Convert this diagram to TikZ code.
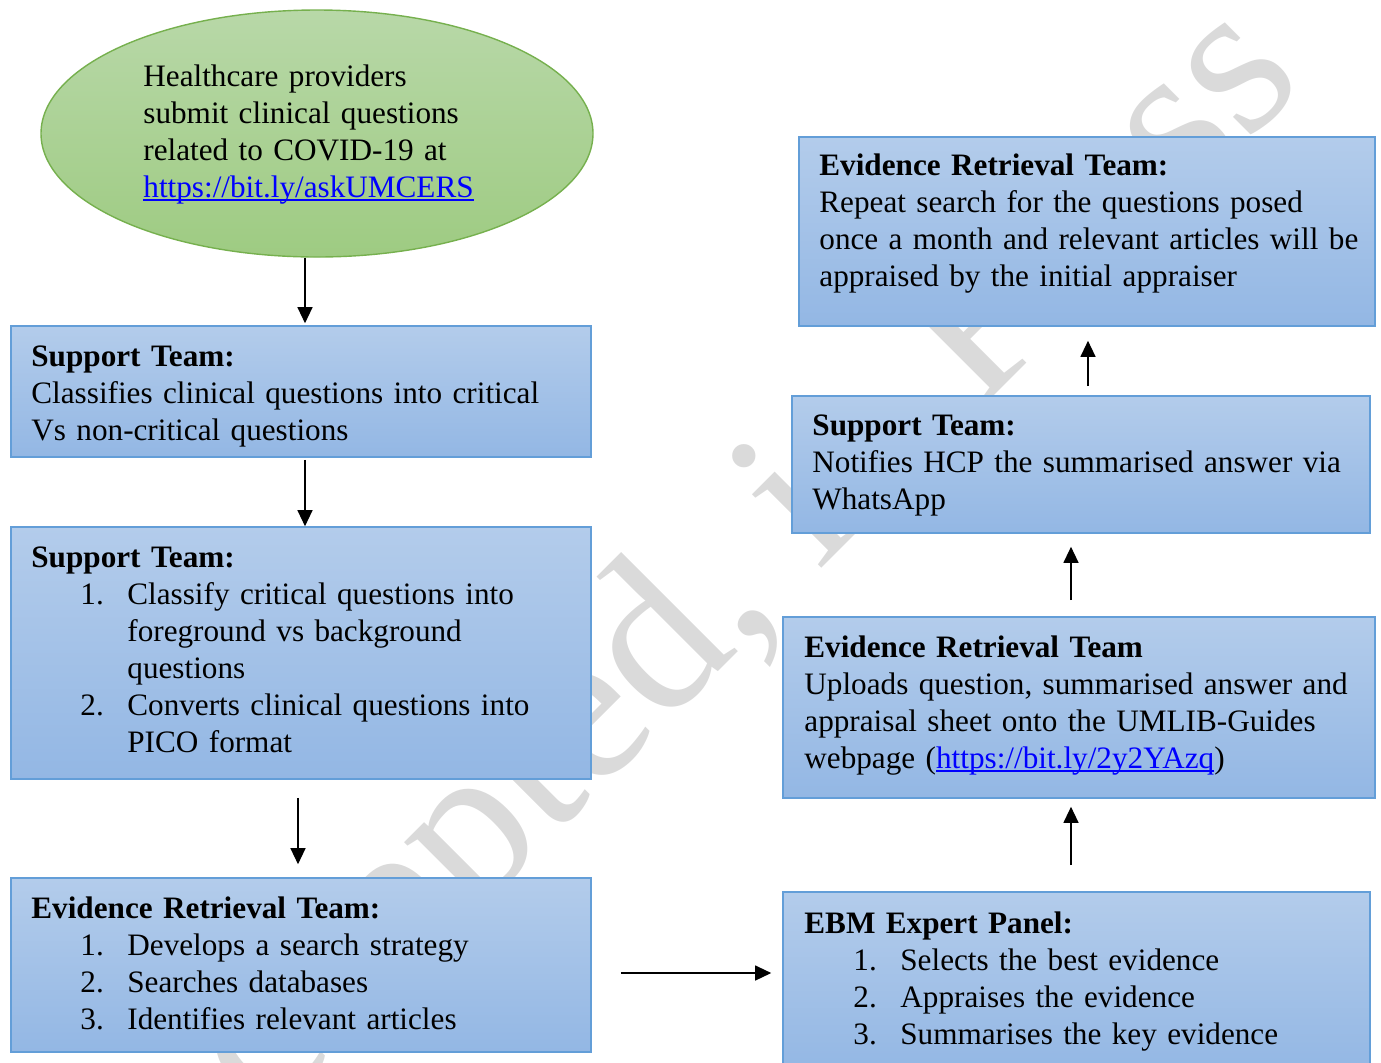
\documentclass[tikz,border=0pt]{standalone}
\usepackage{fontspec}
\setmainfont{Liberation Serif}
\usetikzlibrary{shapes.geometric,arrows.meta}
\definecolor{boxtop}{RGB}{179,204,235}
\definecolor{boxbot}{RGB}{147,183,228}
\definecolor{boxline}{RGB}{99,158,216}
\definecolor{elltop}{RGB}{184,216,168}
\definecolor{ellbot}{RGB}{158,203,130}
\definecolor{ellline}{RGB}{118,176,78}
\definecolor{wmgray}{RGB}{218,218,218}
\definecolor{linkblue}{RGB}{0,0,255}
\newcommand{\lnk}[1]{\textcolor{linkblue}{\setbox0\hbox{#1}\rlap{\rule[-2pt]{\wd0}{0.8pt}}\box0}}
\newcommand{\itm}[2]{\hspace*{24.5pt}\makebox[23.5pt][l]{#1}#2}
\newcommand{\cnt}[1]{\hspace*{48pt}#1}
\tikzset{
  flowbox/.style={draw=boxline, line width=0.8pt, top color=boxtop, bottom color=boxbot, rectangle, inner sep=0pt},
  startell/.style={draw=ellline, line width=0.7pt, top color=elltop, bottom color=ellbot, ellipse, inner sep=0pt},
  txt/.style={anchor=base west, inner sep=0pt, align=left, text width=300pt, font=\fontsize{15.6}{18.5}\selectfont},
  wmark/.style={text=wmgray, font=\fontsize{110}{110}\selectfont, inner sep=0pt, anchor=base, rotate=45},
  arr/.style={line width=0.6pt, -{Triangle[length=8pt,width=7.5pt]}}
}
\begin{document}
\begin{tikzpicture}[x=0.5pt, y=-0.5pt]
\useasboundingbox (0,0) rectangle (1381,1062);
\clip (0,0) rectangle (1381,1062);
% watermark
\node[wmark] (wm) at (730,660) {Accepted, in Press};
% shapes
\node[startell, minimum width=276pt, minimum height=123.5pt] (ell) at (317,133.5) {};
\node[flowbox, minimum width=290pt, minimum height=65.5pt] (s1) at (301,391.5) {};
\node[flowbox, minimum width=290pt, minimum height=126pt] (s2) at (301,653) {};
\node[flowbox, minimum width=290pt, minimum height=87pt] (e1) at (301,965) {};
\node[flowbox, minimum width=293.5pt, minimum height=90pt] (ebm) at (1076.5,982) {};
\node[flowbox, minimum width=296pt, minimum height=90.5pt] (e2) at (1079,707.5) {};
\node[flowbox, minimum width=289pt, minimum height=68.5pt] (s3) at (1081,464.5) {};
\node[flowbox, minimum width=288pt, minimum height=94.5pt] (e3) at (1087,231.5) {};
% texts
\node[txt] (tell) at (143,86) {Healthcare providers\\submit clinical questions\\related to COVID-19 at\\\lnk{https://bit.ly/askUMCERS}};
\node[txt] (ts1) at (31,366) {\textbf{Support Team:}\\Classifies clinical questions into critical\\Vs non-critical questions};
\node[txt] (ts2) at (31,567) {\textbf{Support Team:}\\\itm{1.}{Classify critical questions into}\\\cnt{foreground vs background}\\\cnt{questions}\\\itm{2.}{Converts clinical questions into}\\\cnt{PICO format}};
\node[txt] (te1) at (31,918) {\textbf{Evidence Retrieval Team:}\\\itm{1.}{Develops a search strategy}\\\itm{2.}{Searches databases}\\\itm{3.}{Identifies relevant articles}};
\node[txt] (tebm) at (804,933) {\textbf{EBM Expert Panel:}\\\itm{1.}{Selects the best evidence}\\\itm{2.}{Appraises the evidence}\\\itm{3.}{Summarises the key evidence}};
\node[txt] (te2) at (804,657) {\textbf{Evidence Retrieval Team}\\Uploads question, summarised answer and\\appraisal sheet onto the UMLIB-Guides\\webpage (\lnk{https://bit.ly/2y2YAzq})};
\node[txt] (ts3) at (812,435) {\textbf{Support Team:}\\Notifies HCP the summarised answer via\\WhatsApp};
\node[txt] (te3) at (819,175) {\textbf{Evidence Retrieval Team:}\\Repeat search for the questions posed\\once a month and relevant articles will be\\appraised by the initial appraiser};
% connectors
\draw[arr, shorten >=1pt] ([xshift=-6pt]ell.south) -- ([xshift=-6pt]ell.south |- s1.north);
\draw[arr, shorten <=1pt] ([xshift=2pt]s1.south) -- ([xshift=2pt]s1.south |- s2.north);
\draw[arr, shorten <=9pt, shorten >=6.5pt] ([xshift=-1.5pt]s2.south) -- ([xshift=-1.5pt]s2.south |- e1.north);
\draw[arr, shorten <=14.5pt, shorten >=5.5pt] ([yshift=-4pt]e1.east) -- ([yshift=-4pt]e1.east -| ebm.west);
\draw[arr, shorten <=13pt, shorten >=4pt] ([xshift=-2.75pt]ebm.north) -- ([xshift=-2.75pt]ebm.north |- e2.south);
\draw[arr, shorten <=8pt, shorten >=6.5pt] ([xshift=-4pt]e2.north) -- ([xshift=-4pt]e2.north |- s3.south);
\draw[arr, shorten <=4.5pt, shorten >=7pt] ([xshift=3.5pt]s3.north) -- ([xshift=3.5pt]s3.north |- e3.south);
\end{tikzpicture}
\end{document}
